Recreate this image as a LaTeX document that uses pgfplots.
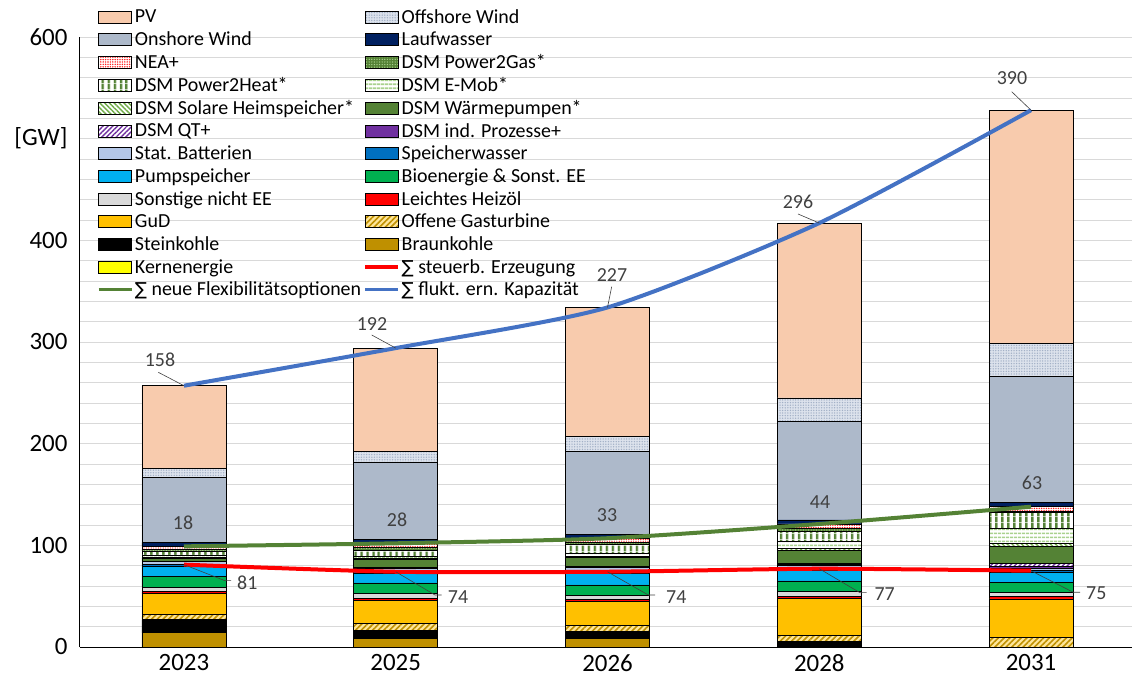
\documentclass[border=0pt]{standalone}
\usepackage{pgfplots}
\pgfplotsset{compat=1.18}
\usepackage{fontspec}
\setmainfont{Carlito}
\newfontfamily\symfont[Scale=0.9]{DejaVu Sans}
\usetikzlibrary{patterns,patterns.meta}

\definecolor{cPV}{HTML}{F8CBAD}
\definecolor{cOff}{HTML}{DCE2EC}
\definecolor{cOffP}{HTML}{A2B0C6}
\definecolor{cOn}{HTML}{ADB9CA}
\definecolor{cLauf}{HTML}{002060}
\definecolor{cNEA}{HTML}{FF2020}
\definecolor{cDkGreen}{HTML}{548235}
\definecolor{cLtGreen}{HTML}{A9D18E}
\definecolor{cMdGreen}{HTML}{70AD47}
\definecolor{cPurple}{HTML}{7030A0}
\definecolor{cBatt}{HTML}{B4C7E7}
\definecolor{cSpw}{HTML}{0070C0}
\definecolor{cPump}{HTML}{00B0F0}
\definecolor{cBio}{HTML}{00B050}
\definecolor{cSonst}{HTML}{D9D9D9}
\definecolor{cHeiz}{HTML}{FF0000}
\definecolor{cGuD}{HTML}{FFC000}
\definecolor{cGold}{HTML}{BF9000}
\definecolor{cOGTbg}{HTML}{FFE699}
\definecolor{cKern}{HTML}{FFFF00}
\definecolor{cLineRed}{HTML}{FF0000}
\definecolor{cLineGreen}{HTML}{548235}
\definecolor{cLineBlue}{HTML}{4472C4}
\definecolor{cLbl}{HTML}{404040}
\definecolor{cGrid}{HTML}{D9D9D9}

\tikzset{
  bd/.style={draw=black, line width=0.8bp},
  sPV/.style={fill=cPV},
  sOff/.style={fill=cOff, postaction={pattern={Dots[radius=0.75bp,distance=2.6bp]}, pattern color=cOffP}},
  sOn/.style={fill=cOn},
  sLauf/.style={fill=cLauf},
  sNEA/.style={fill=white, postaction={pattern={Dots[radius=0.8bp,distance=2.4bp]}, pattern color=cNEA}},
  sP2G/.style={fill=cDkGreen, postaction={pattern={Dots[radius=0.7bp,distance=2.6bp]}, pattern color=cLtGreen}},
  sP2H/.style={fill=white, postaction={pattern={Lines[angle=90,distance=6bp,line width=3bp]}, pattern color=cDkGreen}},
  sEMob/.style={fill=white, postaction={pattern={Lines[angle=0,distance=3.6bp,line width=1.8bp]}, pattern color=cLtGreen}},
  sSolar/.style={fill=white, postaction={pattern={Lines[angle=-45,distance=3.4bp,line width=1.4bp]}, pattern color=cMdGreen}},
  sWP/.style={fill=cDkGreen},
  sQT/.style={fill=white, postaction={pattern={Lines[angle=45,distance=3.4bp,line width=1.4bp]}, pattern color=cPurple}},
  sInd/.style={fill=cPurple},
  sBatt/.style={fill=cBatt},
  sSpw/.style={fill=cSpw},
  sPump/.style={fill=cPump},
  sBio/.style={fill=cBio},
  sSonst/.style={fill=cSonst},
  sHeiz/.style={fill=cHeiz},
  sGuD/.style={fill=cGuD},
  sOGT/.style={fill=cOGTbg, postaction={pattern={Lines[angle=45,distance=4bp,line width=1.6bp]}, pattern color=cGold}},
  sStein/.style={fill=black},
  sBraun/.style={fill=cGold},
  sKern/.style={fill=cKern},
}

\pgfplotsset{
  barleg/.style={legend image code/.code={\draw[##1, draw=black, line width=0.8bp] (0bp,-6bp) rectangle (33bp,6bp);}},
  lineleg/.style={legend image code/.code={\draw[##1] (0bp,0bp) -- (33bp,0bp);}},
}

\newcommand{\SUM}{{\symfont ∑}}
\newcommand{\Px}[2]{({#1bp-80bp},{647bp-#2bp})}

\begin{document}
\begin{tikzpicture}
\begin{axis}[
  scale only axis, width=1052bp, height=610bp,
  xmin=-0.491, xmax=4.477, ymin=0, ymax=600,
  ybar stacked, bar width=84bp,
  xtick={0,1,2,3,4}, xticklabels={2023,2025,2026,2028,2031},
  ytick={0,100,...,600}, yticklabels={0,100,200,300,400,{[GW]},600},
  minor ytick={20,40,60,80,120,140,160,180,220,240,260,280,320,340,360,380,420,440,460,480,520,540,560,580},
  ymajorgrids, yminorgrids,
  major grid style={draw=cGrid, line width=0.9bp},
  minor grid style={draw=cGrid, line width=0.9bp},
  axis x line*=bottom, axis y line*=left,
  axis line style={black, line width=1bp},
  major tick length=0pt, minor tick length=0pt,
  tick label style={font=\fontsize{25}{28}\selectfont, black},
  /pgf/number format/assume math mode=true,
  yticklabel style={xshift=-9bp},
  xticklabel style={yshift=-4bp},
  legend columns=2,
  legend cell align=left,
  legend style={at={(rel axis cs:0,1)}, anchor=north west, xshift=17bp, yshift=27.6bp,
    draw=none, fill=none, inner sep=0pt, outer sep=0pt,
    font=\fontsize{20}{22.7}\selectfont, row sep=7.3bp,
    nodes={inner sep=0pt},
    /tikz/every odd column/.append style={column sep=1.5bp},
    /tikz/every even column/.append style={column sep=2.5bp}},
  clip=false,
]
% --- controllable generation (bottom) ---
\addplot[forget plot, bd, sBraun] coordinates {(0,14) (1,8.5) (2,8) (3,0) (4,0)};
\addplot[forget plot, bd, sStein] coordinates {(0,13) (1,8) (2,7) (3,5.5) (4,0)};
\addplot[forget plot, bd, sOGT] coordinates {(0,5) (1,6.5) (2,6.5) (3,6) (4,9.3)};
\addplot[forget plot, bd, sGuD] coordinates {(0,20.5) (1,23) (2,23) (3,36) (4,38)};
\addplot[forget plot, bd, sHeiz] coordinates {(0,2) (1,2) (2,2.5) (3,2) (4,2)};
\addplot[forget plot, bd, sSonst] coordinates {(0,4.5) (1,4.5) (2,4) (3,5) (4,4.5)};
\addplot[forget plot, bd, sBio] coordinates {(0,10.5) (1,10.5) (2,10) (3,10.5) (4,9.5)};
\addplot[forget plot, bd, sPump] coordinates {(0,10) (1,9.5) (2,11) (3,10.5) (4,10)};
\addplot[forget plot, bd, sSpw] coordinates {(0,1.5) (1,1.5) (2,2) (3,1.5) (4,1.7)};
% --- flexibility options ---
\addplot[forget plot, bd, sBatt] coordinates {(0,3) (1,3) (2,4) (3,3) (4,2)};
\addplot[forget plot, bd, sInd] coordinates {(0,0.3) (1,0.5) (2,0.5) (3,1) (4,2)};
\addplot[forget plot, bd, sQT] coordinates {(0,0.2) (1,0.5) (2,0.5) (3,1.5) (4,3)};
\addplot[forget plot, bd, sWP] coordinates {(0,3) (1,8) (2,9) (3,12.5) (4,17)};
\addplot[forget plot, bd, sSolar] coordinates {(0,1) (1,1.5) (2,1) (3,1.5) (4,3)};
\addplot[forget plot, bd, sEMob] coordinates {(0,2) (1,2) (2,3) (3,7.5) (4,15)};
\addplot[forget plot, bd, sP2H] coordinates {(0,4) (1,5.5) (2,8.5) (3,9.5) (4,15)};
\addplot[forget plot, bd, sP2G] coordinates {(0,1.5) (1,2.5) (2,2) (3,3) (4,1.5)};
\addplot[forget plot, bd, sNEA] coordinates {(0,3) (1,4.5) (2,4.5) (3,4.5) (4,4.5)};
% --- fluctuating renewables ---
\addplot[forget plot, bd, sLauf] coordinates {(0,4) (1,4) (2,4) (3,4) (4,4)};
\addplot[forget plot, bd, sOn] coordinates {(0,64) (1,76) (2,81) (3,97) (4,124)};
\addplot[forget plot, bd, sOff] coordinates {(0,9) (1,10) (2,15) (3,23) (4,33)};
\addplot[forget plot, bd, sPV] coordinates {(0,81) (1,102) (2,127) (3,172) (4,229)};

% --- legend (row-wise, 2 columns) ---
\addlegendimage{barleg, sPV}\addlegendentry{PV}
\addlegendimage{barleg, sOff}\addlegendentry{Offshore Wind}
\addlegendimage{barleg, sOn}\addlegendentry{Onshore Wind}
\addlegendimage{barleg, sLauf}\addlegendentry{Laufwasser}
\addlegendimage{barleg, sNEA}\addlegendentry{NEA+}
\addlegendimage{barleg, sP2G}\addlegendentry{DSM Power2Gas*}
\addlegendimage{barleg, sP2H}\addlegendentry{DSM Power2Heat*}
\addlegendimage{barleg, sEMob}\addlegendentry{DSM E-Mob*}
\addlegendimage{barleg, sSolar}\addlegendentry{DSM Solare Heimspeicher*}
\addlegendimage{barleg, sWP}\addlegendentry{DSM Wärmepumpen*}
\addlegendimage{barleg, sQT}\addlegendentry{DSM QT+}
\addlegendimage{barleg, sInd}\addlegendentry{DSM ind. Prozesse+}
\addlegendimage{barleg, sBatt}\addlegendentry{Stat. Batterien}
\addlegendimage{barleg, sSpw}\addlegendentry{Speicherwasser}
\addlegendimage{barleg, sPump}\addlegendentry{Pumpspeicher}
\addlegendimage{barleg, sBio}\addlegendentry{Bioenergie \& Sonst. EE}
\addlegendimage{barleg, sSonst}\addlegendentry{Sonstige nicht EE}
\addlegendimage{barleg, sHeiz}\addlegendentry{Leichtes Heizöl}
\addlegendimage{barleg, sGuD}\addlegendentry{GuD}
\addlegendimage{barleg, sOGT}\addlegendentry{Offene Gasturbine}
\addlegendimage{barleg, sStein}\addlegendentry{Steinkohle}
\addlegendimage{barleg, sBraun}\addlegendentry{Braunkohle}
\addlegendimage{barleg, sKern}\addlegendentry{Kernenergie}
\addlegendimage{lineleg, cLineRed, line width=3.5bp}\addlegendentry{\SUM\ steuerb. Erzeugung}
\addlegendimage{lineleg, cLineGreen, line width=3.5bp}\addlegendentry{\SUM\ neue Flexibilitätsoptionen}
\addlegendimage{lineleg, cLineBlue, line width=3.5bp}\addlegendentry{\SUM\ flukt. ern. Kapazität}
\end{axis}

\begin{axis}[
  scale only axis, width=1052bp, height=610bp,
  xmin=-0.491, xmax=4.477, ymin=0, ymax=600,
  hide axis, clip=false,
]
\addplot[cLineRed, line width=4bp, smooth, tension=0.4] coordinates {(0,81) (1,74) (2,74) (3,77) (4,75)};
\addplot[cLineGreen, line width=4bp, smooth, tension=0.4] coordinates {(0,99) (1,102) (2,107) (3,121) (4,138)};
\addplot[cLineBlue, line width=4bp, smooth, tension=0.4] coordinates {(0,257) (1,294) (2,334) (3,417) (4,528)};
\coordinate (r0) at (axis cs:0,81);
\coordinate (r1) at (axis cs:1,74);
\coordinate (r2) at (axis cs:2,74);
\coordinate (r3) at (axis cs:3,77);
\coordinate (r4) at (axis cs:4,75);
\coordinate (b0) at (axis cs:0,257);
\coordinate (b1) at (axis cs:1,294);
\coordinate (b2) at (axis cs:2,334);
\coordinate (b3) at (axis cs:3,417);
\coordinate (b4) at (axis cs:4,528);
\end{axis}

% data labels
\tikzset{lbl/.style={font=\fontsize{20}{22}\selectfont, text=cLbl, inner sep=0pt},
         ldr/.style={draw=cLbl, line width=0.6bp}}
% fluctuating sums
\draw[ldr] \Px{158.3}{372.3} -- (b0);
\node[lbl] at \Px{160}{360} {158};
\draw[ldr] \Px{371.7}{335} -- (b1);
\node[lbl] at \Px{372}{324} {192};
\draw[ldr] \Px{611.7}{286.7} -- (b2);
\node[lbl] at \Px{612}{275} {227};
\draw[ldr] \Px{798}{214} -- (b3);
\node[lbl] at \Px{798}{202} {296};
\draw[ldr] \Px{1011.7}{91.7} -- (b4);
\node[lbl] at \Px{1012}{78} {390};
% flexibility sums
\node[lbl] at \Px{183}{523} {18};
\node[lbl] at \Px{397}{520} {28};
\node[lbl] at \Px{607}{515} {33};
\node[lbl] at \Px{820}{501.7} {44};
\node[lbl] at \Px{1032}{483} {63};
% controllable sums
\draw[ldr] (r0) -- \Px{225}{580.7} -- \Px{231}{580.7};
\node[lbl, anchor=west] at \Px{237}{582.7} {81};
\draw[ldr] (r1) -- \Px{435}{595} -- \Px{441.7}{595};
\node[lbl, anchor=west] at \Px{447.7}{596.7} {74};
\draw[ldr] (r2) -- \Px{648.3}{595} -- \Px{655}{595};
\node[lbl, anchor=west] at \Px{666}{597} {74};
\draw[ldr] (r3) -- \Px{860}{592.7} -- \Px{866.7}{592.7};
\node[lbl, anchor=west] at \Px{874.3}{594.3} {77};
\draw[ldr] (r4) -- \Px{1073.3}{592.3} -- \Px{1080}{592.3};
\node[lbl, anchor=west] at \Px{1086}{593.3} {75};

\pgfresetboundingbox
\path (-80bp,-39bp) rectangle (1052bp,647bp);
\end{tikzpicture}
\end{document}
